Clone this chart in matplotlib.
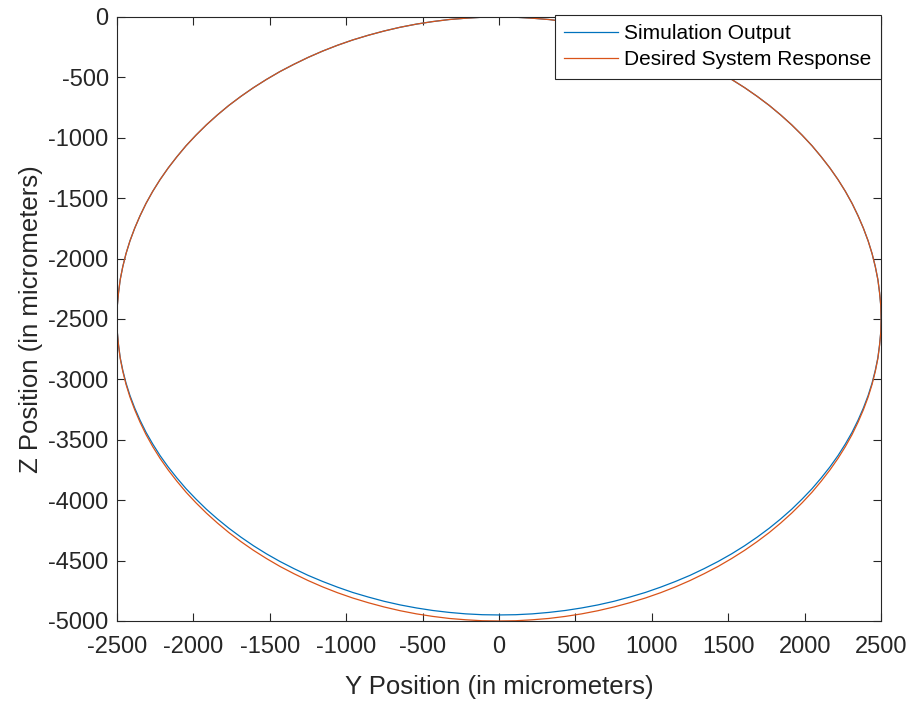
import numpy as np
import matplotlib.pyplot as plt

plt.rcParams['font.family'] = ['Liberation Sans', 'DejaVu Sans']

# points read every 2.5 degrees along one quarter of the loop (micrometers)
# horizontal offset from the centre line, going from top (0) out to the side (2500)
quarter_y = [0, 109, 218, 326, 434, 541, 647, 752, 855, 957, 1057, 1154, 1250, 1343, 1434, 1522, 1607, 1689, 1768,
             1843, 1915, 1983, 2048, 2108, 2165, 2218, 2266, 2310, 2349, 2384, 2415, 2441, 2462, 2479, 2490, 2498, 2500]
# depth below z = 0 on the upper half (same for both curves)
upper_depth = [0, 2, 10, 21, 38, 59, 85, 116, 151, 190, 234, 282, 335, 392, 452, 517, 585, 657, 732,
               811, 893, 978, 1066, 1157, 1250, 1346, 1443, 1543, 1645, 1748, 1853, 1959, 2066, 2174, 2282, 2391, 2500]
# drop below z = -2500 on the lower half, from the side down to the bottom
desired_drop = [0, 109, 218, 326, 434, 541, 647, 752, 855, 957, 1057, 1154, 1250, 1343, 1434, 1522, 1607, 1689, 1768,
                1843, 1915, 1983, 2048, 2108, 2165, 2218, 2266, 2310, 2349, 2384, 2415, 2441, 2462, 2479, 2490, 2498, 2500]
sim_drop = [0, 107, 214, 320, 425, 530, 634, 737, 838, 938, 1035, 1131, 1225, 1316, 1405, 1491, 1575, 1655, 1732,
            1806, 1877, 1944, 2007, 2066, 2122, 2173, 2220, 2264, 2302, 2337, 2367, 2392, 2413, 2429, 2441, 2448, 2450]

x_ticks = list(range(-2500, 2501, 500))
y_ticks = list(range(-5000, 1, 500))


def full_loop(qy, top, drop):
    # walk the loop clockwise from (0, 0): upper right, lower right, lower left, upper left
    qy = np.array(qy)
    top = np.array(top)
    drop = np.array(drop)
    ys = np.concatenate([qy, qy[::-1], -qy, -qy[::-1]])
    zs = np.concatenate([-top, -2500 - drop, -2500 - drop[::-1], -top[::-1]])
    return ys, zs


sim_y, sim_z = full_loop(quarter_y, upper_depth, sim_drop)
des_y, des_z = full_loop(quarter_y, upper_depth, desired_drop)

fig = plt.figure(figsize=(9.14, 7.02), dpi=100)
ax = fig.add_axes([0.128, 0.1154, 0.836, 0.8604])

ax.plot(sim_y, sim_z, color='#0072BD', lw=0.9, label='Simulation Output')
ax.plot(des_y, des_z, color='#D95319', lw=0.9, label='Desired System Response')

ax.set_xlim(-2500, 2500)
ax.set_ylim(-5000, 0)
ax.set_xticks(x_ticks)
ax.set_yticks(y_ticks)
ax.set_xticklabels([str(v) for v in x_ticks])
ax.set_yticklabels([str(v) for v in y_ticks])
ax.tick_params(direction='in', top=True, right=True, length=6, width=0.8,
               colors='#262626', labelsize=17, labelcolor='#262626')
ax.tick_params(axis='x', pad=11)
ax.tick_params(axis='y', pad=6)
for s in ax.spines.values():
    s.set_color('#262626')
    s.set_linewidth(0.8)

ax.set_xlabel('Y Position (in micrometers)', fontsize=18.5, color='#262626', labelpad=12)
ax.set_ylabel('Z Position (in micrometers)', fontsize=18.5, color='#262626', labelpad=4)

leg = ax.legend(loc='upper right', bbox_to_anchor=(1.0, 1.004), borderaxespad=0,
                fancybox=False, edgecolor='#262626', framealpha=1, fontsize=15,
                handlelength=2.6, handletextpad=0.3, borderpad=0.45, labelspacing=0.35)
leg.get_frame().set_linewidth(0.8)

fig.savefig('out.png', dpi=100)
